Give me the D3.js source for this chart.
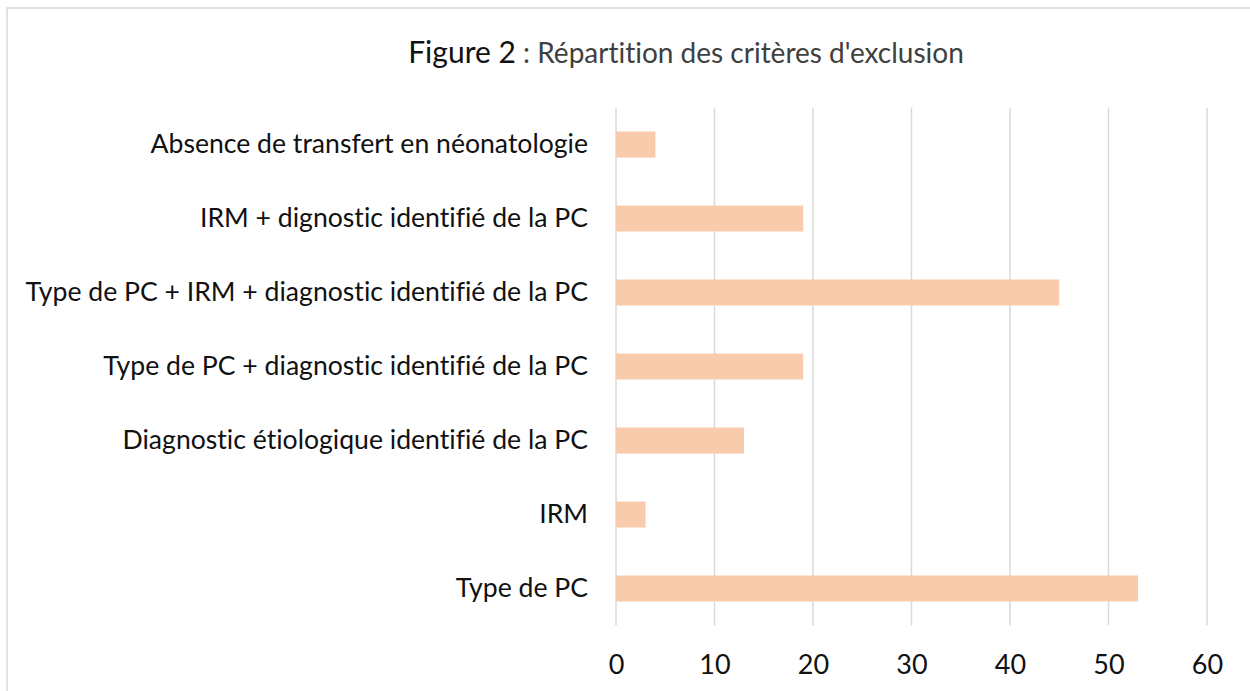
<!DOCTYPE html>
<html>
<head>
<meta charset="utf-8">
<script src="https://cdn.jsdelivr.net/npm/d3@7"></script>
<style>
  body { margin: 0; background: #fff; }
  svg { display: block; }
  text { font-family: Lato, "Open Sans", sans-serif; font-variant-ligatures: none; }
</style>
</head>
<body>
<script>
// categories top to bottom, as in the picture
const categories = [
  "Absence de transfert en néonatologie",
  "IRM + dignostic identifié de la PC",
  "Type de PC + IRM + diagnostic identifié de la PC",
  "Type de PC + diagnostic identifié de la PC",
  "Diagnostic étiologique identifié de la PC",
  "IRM",
  "Type de PC"
];
const values = [4, 19, 45, 19, 13, 3, 53];
const xTicks = [0, 10, 20, 30, 40, 50, 60];

const width = 1250, height = 691;
const margin = { top: 107.5, right: 43, bottom: 65.5, left: 616 };

const svg = d3.select("body").append("svg")
  .attr("width", width)
  .attr("height", height);

// chart frame, runs off the right and bottom edge
svg.append("rect")
  .attr("x", 7).attr("y", 8)
  .attr("width", 2000).attr("height", 2000)
  .attr("fill", "none")
  .attr("stroke", "#d9d9d9")
  .attr("stroke-width", 1.5);

const x = d3.scaleLinear()
  .domain([0, 60])
  .range([margin.left, width - margin.right]);

const y = d3.scaleBand()
  .domain(categories)
  .range([margin.top, height - margin.bottom])
  .paddingInner(0.6486)
  .paddingOuter(0.3243);

// grid
svg.append("g")
  .selectAll("line")
  .data(xTicks)
  .join("line")
  .attr("x1", d => x(d)).attr("x2", d => x(d))
  .attr("y1", margin.top).attr("y2", height - margin.bottom)
  .attr("stroke", "#d9d9d9")
  .attr("stroke-width", 1.5);

// bars
svg.append("g")
  .selectAll("rect")
  .data(values)
  .join("rect")
  .attr("x", x(0))
  .attr("y", (d, i) => y(categories[i]))
  .attr("width", d => x(d) - x(0))
  .attr("height", y.bandwidth())
  .attr("fill", "#f8cbad");

// x axis labels
const xAxis = svg.append("g")
  .attr("transform", `translate(0,${height - margin.bottom})`)
  .call(d3.axisBottom(x).tickValues(xTicks).tickSize(0).tickPadding(29));
xAxis.select(".domain").remove();
xAxis.selectAll("text")
  .attr("font-size", 27)
  .attr("fill", "#111")
  .style("font-family", "Lato, 'Open Sans', sans-serif");

// y axis labels
const yAxis = svg.append("g")
  .attr("transform", `translate(${margin.left},0)`)
  .call(d3.axisLeft(y).tickSize(0).tickPadding(28));
yAxis.select(".domain").remove();
yAxis.selectAll("text")
  .attr("font-size", 26.6)
  .attr("fill", "#111")
  .style("font-family", "Lato, 'Open Sans', sans-serif");

// title
const title = svg.append("text")
  .attr("x", 686)
  .attr("y", 63)
  .attr("text-anchor", "middle")
  .attr("fill", "#404040")
  .attr("font-size", 28);
title.append("tspan")
  .attr("fill", "#111")
  .attr("font-size", 30)
  .text("Figure 2");
title.append("tspan").text(" : Répartition des critères d'exclusion");
</script>
</body>
</html>
